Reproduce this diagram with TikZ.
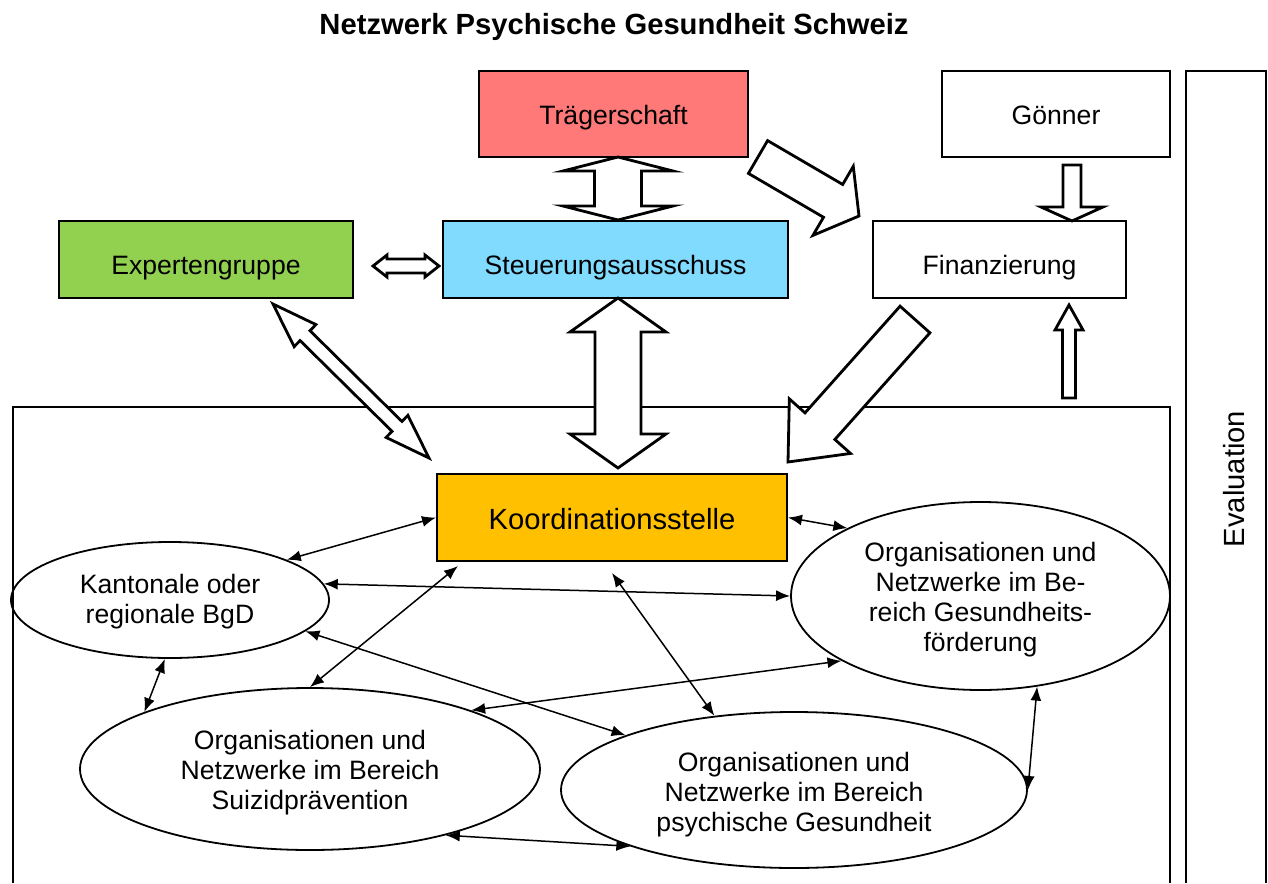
\documentclass[tikz,border=0pt]{standalone}
\usepackage{fontspec}
\setmainfont{Liberation Sans}
\usetikzlibrary{arrows.meta,calc,shapes.geometric}

\definecolor{traegerred}{RGB}{255,121,121}
\definecolor{steuerblue}{RGB}{128,219,255}
\definecolor{expertgreen}{RGB}{146,208,80}
\definecolor{koordorange}{RGB}{255,192,0}

\newcommand{\lift}[1]{\rule{0pt}{#1}}

\tikzset{
  box/.style={draw, line width=1pt, rectangle, inner sep=0pt, font=\fontsize{13.3}{15}\selectfont},
  toprow/.style={box, text height=13.6pt, text depth=2.8pt},
  midrow/.style={box, text height=17.5pt, text depth=2.8pt},
  oval/.style={draw, line width=0.9pt, ellipse, inner sep=-2pt, align=center,
    font=\fontsize{13.3}{15}\selectfont},
  frameline/.style={line width=1pt},
  blockarrow/.style={draw, fill=white, line width=1.4pt, line join=miter},
  link/.style={line width=0.75pt, {Latex[length=7pt,width=5.5pt]}-{Latex[length=7pt,width=5.5pt]}}
}

% #1 tail, #2 tip, #3 shaft half width, #4 head half width, #5 head length
\newcommand{\singleblock}[5]{%
  \path[blockarrow] let \p1=(#1), \p2=(#2), \n1={atan2(\y2-\y1,\x2-\x1)}, \n2={\n1+90} in
    ($(\p1)+(\n2:#3)$) -- ($(\p2)+(\n1:-#5)+(\n2:#3)$) -- ($(\p2)+(\n1:-#5)+(\n2:#4)$) -- (\p2)
    -- ($(\p2)+(\n1:-#5)+(\n2:-#4)$) -- ($(\p2)+(\n1:-#5)+(\n2:-#3)$) -- ($(\p1)+(\n2:-#3)$) -- cycle;}
% #1 tip, #2 tip, #3 shaft half width, #4 head half width, #5 head length
\newcommand{\doubleblock}[5]{%
  \path[blockarrow] let \p1=(#1), \p2=(#2), \n1={atan2(\y2-\y1,\x2-\x1)}, \n2={\n1+90} in
    (\p1) -- ($(\p1)+(\n1:#5)+(\n2:#4)$) -- ($(\p1)+(\n1:#5)+(\n2:#3)$)
    -- ($(\p2)+(\n1:-#5)+(\n2:#3)$) -- ($(\p2)+(\n1:-#5)+(\n2:#4)$) -- (\p2)
    -- ($(\p2)+(\n1:-#5)+(\n2:-#4)$) -- ($(\p2)+(\n1:-#5)+(\n2:-#3)$)
    -- ($(\p1)+(\n1:#5)+(\n2:-#3)$) -- ($(\p1)+(\n1:#5)+(\n2:-#4)$) -- cycle;}

\begin{document}
\begin{tikzpicture}[x=0.5pt, y=-0.5pt]
	\useasboundingbox (0,0) rectangle (1268,883);
	\node[font=\fontsize{14.6}{17}\selectfont\bfseries] (title) at (614,26.5) {Netzwerk Psychische Gesundheit Schweiz};

	% top boxes
	\node[toprow, fill=traegerred, minimum width=134.5pt, minimum height=43pt] (traeger) at (613.5,114) {Trägerschaft};
	\node[toprow, minimum width=114pt, minimum height=43pt] (goenner) at (1056,114) {Gönner};
	\node[midrow, fill=expertgreen, minimum width=147pt, minimum height=38.5pt] (expert) at (206,259.5) {Expertengruppe};
	\node[midrow, fill=steuerblue, minimum width=172.5pt, minimum height=38.5pt] (steuer) at (615.5,259.5) {Steuerungsausschuss};
	\node[midrow, minimum width=126.5pt, minimum height=38.5pt] (finanz) at (999.5,259.5) {Finanzierung};

	% frame and evaluation
	\draw[frameline] (13,883) -- (13,407) -- (1170,407) -- (1170,883);
	\draw[frameline] (1186,883) -- (1186,71) -- (1266,71) -- (1266,883);
	\node[rotate=90, font=\fontsize{14.6}{17}\selectfont] (eval) at (1234,479) {Evaluation};

	% block arrows
	\doubleblock{618,157}{618,220}{11.75pt}{27.5pt}{7pt}
	\singleblock{758,157}{859,216}{9.5pt}{20pt}{15pt}
	\doubleblock{373,266}{439,266}{3.5pt}{5.5pt}{7pt}
	\doubleblock{273,304}{429,458}{3.5pt}{7.75pt}{22.5pt}
	\doubleblock{618,298}{618,468}{11.5pt}{24pt}{17pt}
	\singleblock{915,319.5}{788,462}{10pt}{20.5pt}{24pt}
	\singleblock{1072,165}{1072,221}{4.5pt}{15.5pt}{7pt}
	\singleblock{1069,398}{1069,305}{3.25pt}{7pt}{12.5pt}

	% network
	\node[box, fill=koordorange, minimum width=175pt, minimum height=43.5pt, text height=13.2pt, text depth=0.8pt, font=\fontsize{14.6}{17}\selectfont] (koord) at (612,517.5) {Koordinationsstelle};
	\node[oval, minimum width=159pt, minimum height=58pt] (kant) at (170,600) {\lift{11.7pt}Kantonale oder\\regionale BgD};
	\node[oval, minimum width=189.5pt, minimum height=94pt] (gesf) at (980.5,596) {\lift{13.7pt}Organisationen und\\Netzwerke im Be-\\reich Gesundheits-\\förderung};
	\node[oval, minimum width=230pt, minimum height=81pt] (suiz) at (310,769) {\lift{13.7pt}Organisationen und\\Netzwerke im Bereich\\Suizidprävention};
	\node[oval, minimum width=233pt, minimum height=78pt] (psych) at (794,790) {\lift{14.7pt}Organisationen und\\Netzwerke im Bereich\\psychische Gesundheit};

	\draw[link] (koord.west) -- (kant.19);
	\draw[link] (koord.east) -- (gesf.153);
	\draw[link] (kant.6) -- (gesf.west);
	\draw[link] ($(koord.south west)+(22,4)$) -- (suiz.north);
	\draw[link] ($(koord.south)+(0,11)$) -- (psych.137);
	\draw[link] (kant.-13) -- (psych.162);
	\draw[link] (gesf.-155) -- (suiz.20);
	\draw[link] (kant.-95) -- (suiz.161);
	\draw[link] (gesf.-58) -- (psych.east);
	\draw[link] (suiz.-26) -- (psych.-161);
\end{tikzpicture}
\end{document}
